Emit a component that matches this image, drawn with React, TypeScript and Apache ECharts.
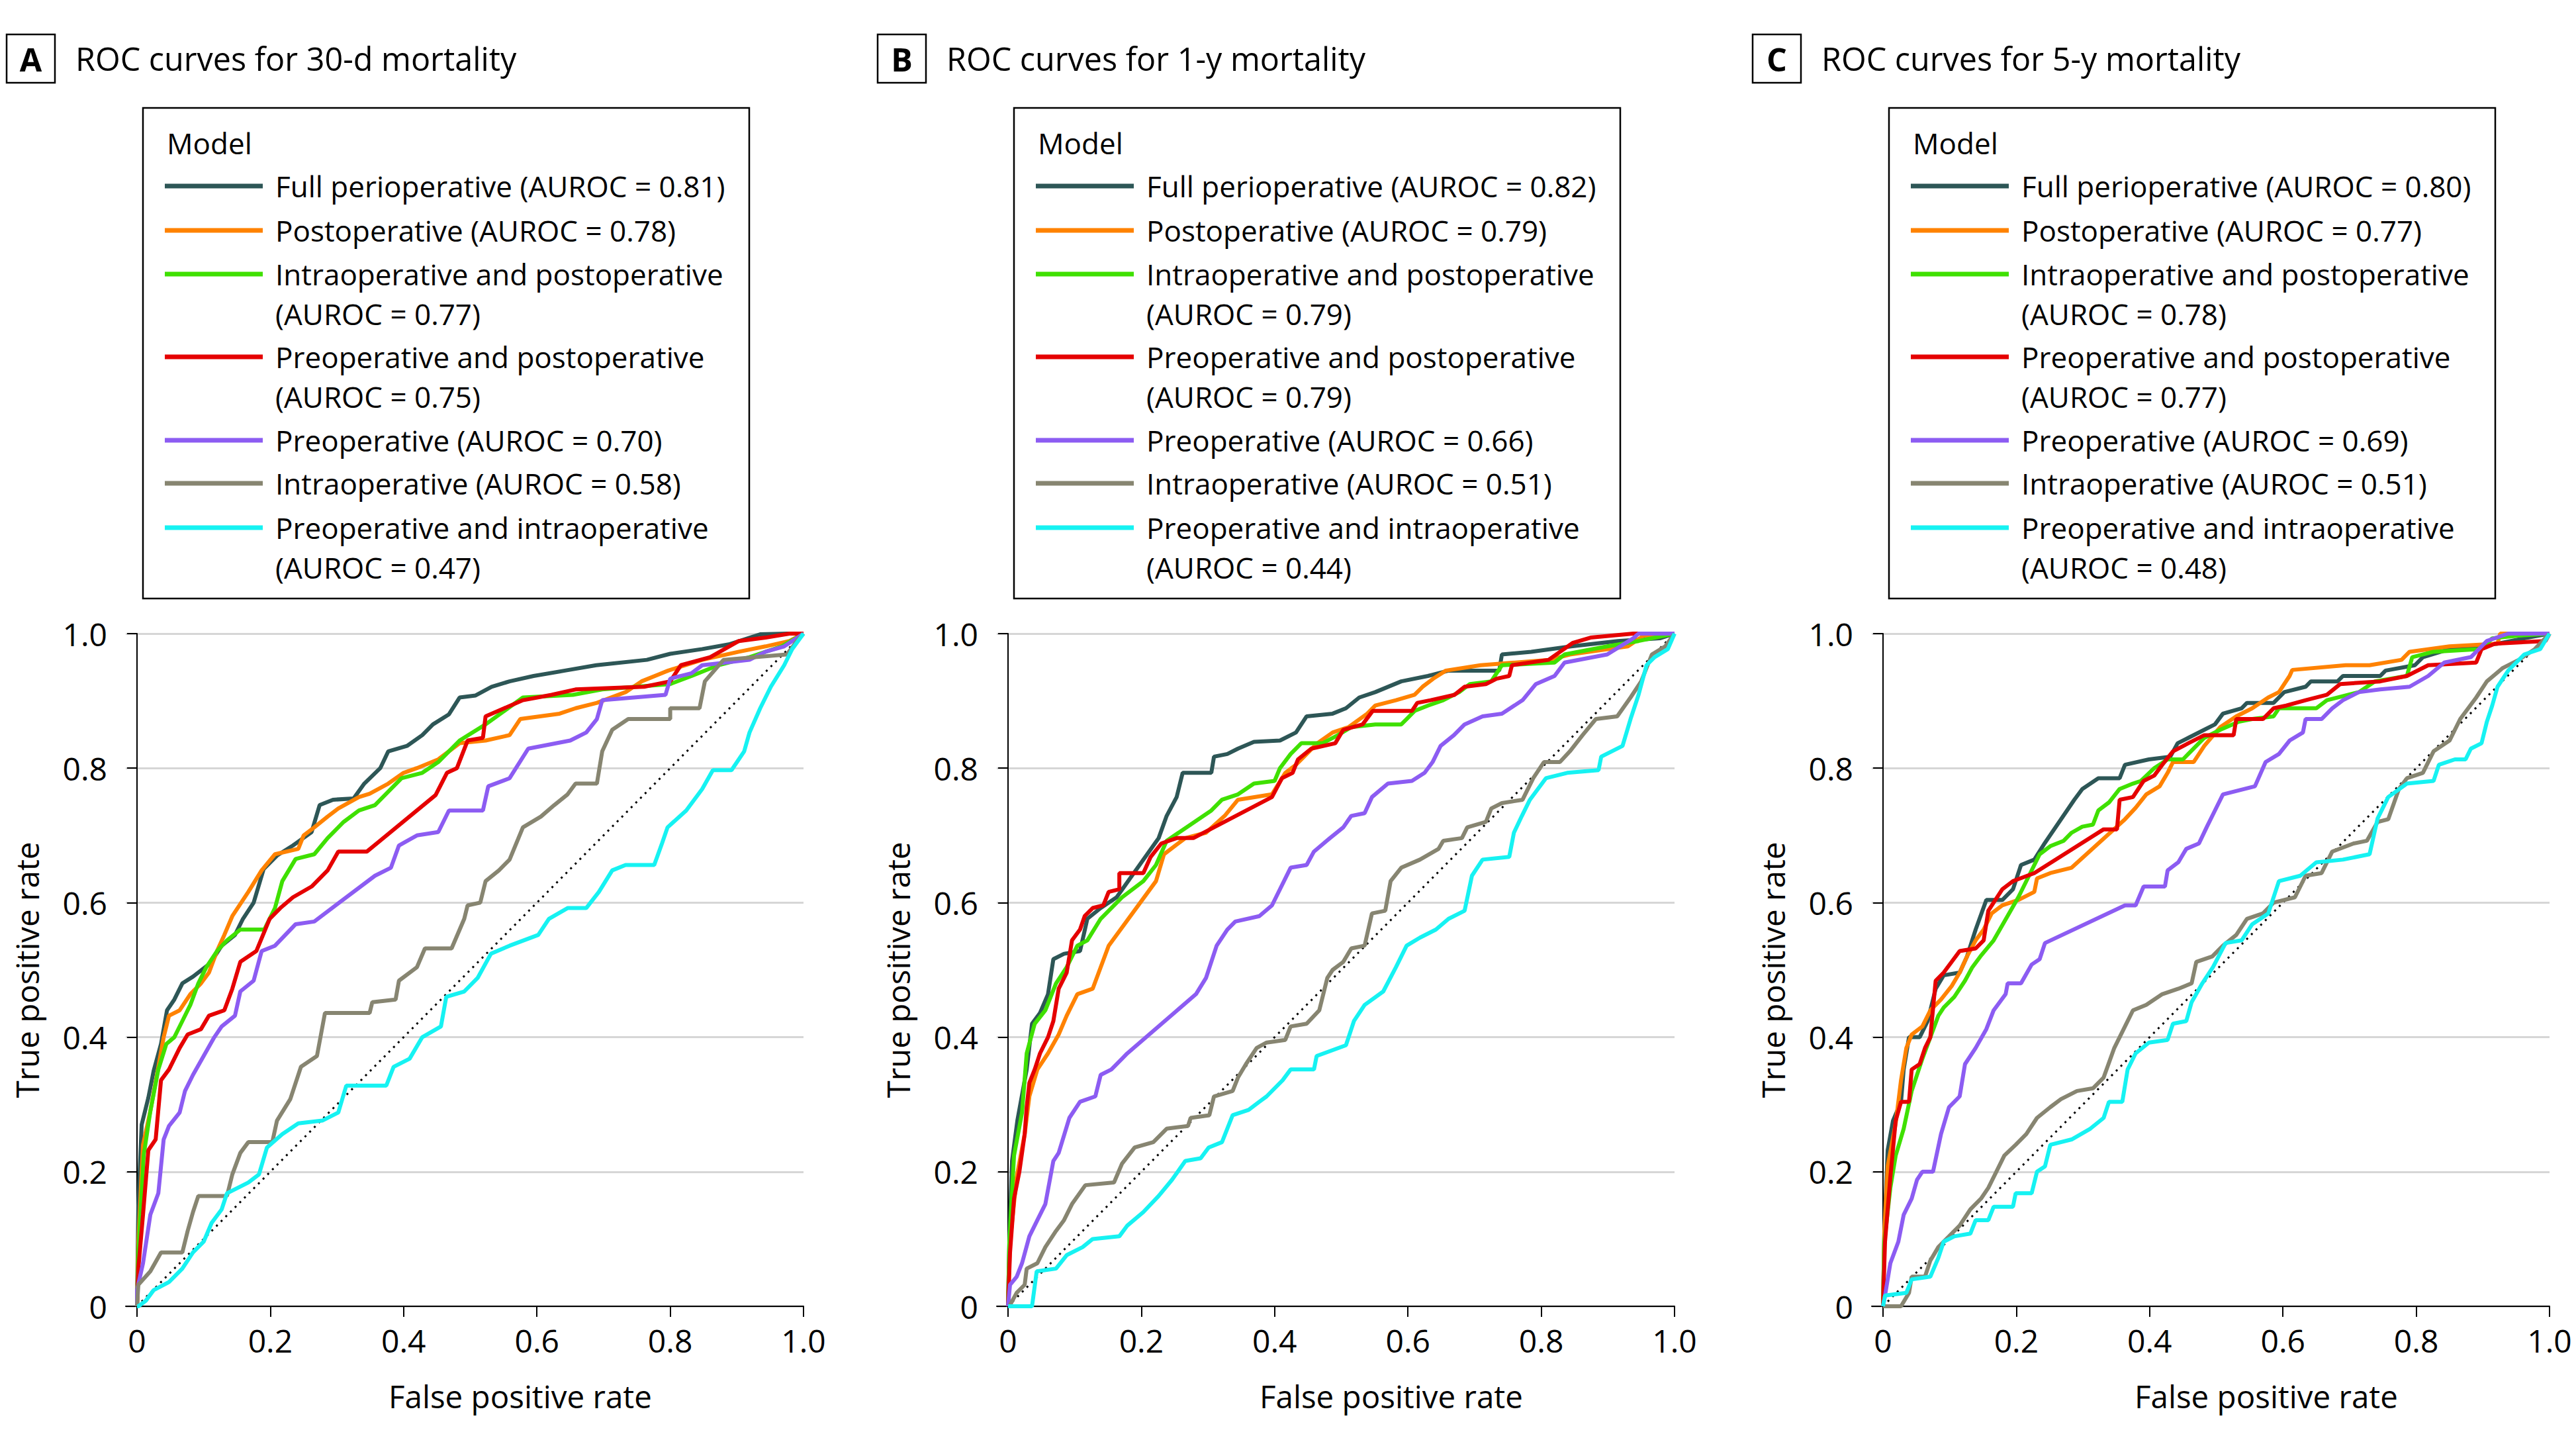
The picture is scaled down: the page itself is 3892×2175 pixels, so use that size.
import React, { useEffect, useRef } from "react";
import * as echarts from "echarts";

const W = 3892;
const H = 2175;
const FONT = '"Open Sans", "Liberation Sans", sans-serif';

const panelLetters = ["A", "B", "C"];
const panelTitles = ["ROC curves for 30-d mortality", "ROC curves for 1-y mortality", "ROC curves for 5-y mortality"];
const modelNames = [
  "Full perioperative",
  "Postoperative",
  "Intraoperative and postoperative",
  "Preoperative and postoperative",
  "Preoperative",
  "Intraoperative",
  "Preoperative and intraoperative",
];
const modelWrap = [false, false, true, true, false, false, true];
const aurocA = [0.81, 0.78, 0.77, 0.75, 0.7, 0.58, 0.47];
const aurocB = [0.82, 0.79, 0.79, 0.79, 0.66, 0.51, 0.44];
const aurocC = [0.8, 0.77, 0.78, 0.77, 0.69, 0.51, 0.48];
const modelColors = ["#2d5656", "#ff8200", "#3fe000", "#e50000", "#8c5cf2", "#878571", "#16f2f2"];
const tickValues = [0, 0.2, 0.4, 0.6, 0.8, 1.0];
const xAxisTitle = "False positive rate";
const yAxisTitle = "True positive rate";
const diagonal = [[0, 0], [1, 1]];

// ---- Panel A: 30-d mortality ----
const aFull = [[0,0],[0.002,0.15],[0.007,0.27],[0.017,0.31],[0.025,0.35],[0.036,0.39],[0.045,0.44],[0.056,0.456],[0.068,0.48],[0.084,0.49],[0.11,0.51],[0.127,0.536],[0.147,0.552],[0.159,0.576],[0.175,0.6],[0.19,0.65],[0.21,0.67],[0.234,0.685],[0.262,0.705],[0.274,0.745],[0.294,0.753],[0.325,0.755],[0.341,0.777],[0.365,0.8],[0.377,0.825],[0.405,0.833],[0.428,0.849],[0.444,0.865],[0.468,0.88],[0.484,0.905],[0.508,0.908],[0.532,0.921],[0.559,0.929],[0.595,0.937],[0.642,0.945],[0.689,0.953],[0.765,0.961],[0.8,0.97],[0.848,0.977],[0.888,0.984],[0.935,0.999],[0.975,1],[1,1]];
const aPost = [[0,0],[0.002,0.096],[0.009,0.24],[0.02,0.29],[0.031,0.35],[0.04,0.4],[0.048,0.432],[0.064,0.44],[0.08,0.464],[0.096,0.48],[0.108,0.496],[0.12,0.528],[0.131,0.552],[0.143,0.58],[0.167,0.616],[0.187,0.648],[0.207,0.672],[0.242,0.68],[0.25,0.7],[0.266,0.712],[0.286,0.728],[0.302,0.74],[0.333,0.757],[0.349,0.762],[0.377,0.777],[0.4,0.793],[0.42,0.8],[0.452,0.813],[0.484,0.837],[0.523,0.841],[0.559,0.849],[0.575,0.873],[0.634,0.881],[0.658,0.889],[0.69,0.897],[0.733,0.913],[0.757,0.929],[0.797,0.945],[0.848,0.961],[0.903,0.973],[0.943,0.981],[0.979,0.989],[1,1]];
const aIntraPost = [[0,0],[0.002,0.08],[0.01,0.224],[0.02,0.29],[0.032,0.352],[0.044,0.39],[0.056,0.4],[0.068,0.424],[0.08,0.448],[0.092,0.48],[0.104,0.504],[0.12,0.528],[0.135,0.544],[0.155,0.56],[0.191,0.56],[0.207,0.592],[0.218,0.632],[0.238,0.665],[0.266,0.672],[0.286,0.696],[0.31,0.72],[0.333,0.737],[0.357,0.745],[0.381,0.769],[0.397,0.785],[0.428,0.793],[0.452,0.809],[0.484,0.841],[0.523,0.865],[0.579,0.905],[0.654,0.909],[0.698,0.917],[0.8,0.925],[0.832,0.937],[0.872,0.953],[0.919,0.965],[0.967,0.981],[1,1]];
const aPrePost = [[0,0],[0.002,0.056],[0.009,0.136],[0.017,0.232],[0.028,0.248],[0.036,0.336],[0.048,0.352],[0.064,0.384],[0.076,0.404],[0.096,0.412],[0.108,0.432],[0.131,0.44],[0.143,0.472],[0.155,0.512],[0.179,0.528],[0.199,0.576],[0.215,0.592],[0.234,0.608],[0.262,0.624],[0.286,0.648],[0.302,0.676],[0.345,0.676],[0.448,0.76],[0.465,0.793],[0.48,0.8],[0.496,0.841],[0.519,0.845],[0.523,0.877],[0.551,0.889],[0.579,0.901],[0.622,0.909],[0.658,0.917],[0.761,0.921],[0.8,0.929],[0.816,0.953],[0.86,0.965],[0.903,0.989],[0.943,0.994],[0.979,1],[1,1]];
const aPre = [[0,0],[0,0.024],[0.009,0.064],[0.02,0.136],[0.032,0.168],[0.04,0.248],[0.048,0.268],[0.064,0.288],[0.072,0.32],[0.084,0.344],[0.1,0.372],[0.116,0.4],[0.127,0.416],[0.147,0.432],[0.155,0.468],[0.175,0.484],[0.187,0.528],[0.207,0.536],[0.238,0.568],[0.266,0.572],[0.357,0.64],[0.381,0.652],[0.393,0.685],[0.42,0.7],[0.452,0.705],[0.468,0.737],[0.519,0.737],[0.527,0.773],[0.559,0.785],[0.587,0.829],[0.65,0.841],[0.674,0.853],[0.69,0.873],[0.698,0.901],[0.793,0.909],[0.8,0.933],[0.832,0.941],[0.848,0.953],[0.919,0.961],[0.943,0.973],[0.971,0.981],[1,1]];
const aIntra = [[0,0],[0.002,0.032],[0.02,0.052],[0.036,0.08],[0.068,0.08],[0.076,0.112],[0.084,0.14],[0.092,0.164],[0.135,0.164],[0.143,0.196],[0.155,0.228],[0.167,0.244],[0.203,0.244],[0.21,0.276],[0.23,0.308],[0.246,0.356],[0.27,0.372],[0.282,0.436],[0.349,0.436],[0.353,0.452],[0.388,0.456],[0.393,0.484],[0.42,0.504],[0.432,0.532],[0.472,0.532],[0.491,0.576],[0.496,0.596],[0.515,0.6],[0.523,0.632],[0.543,0.648],[0.559,0.664],[0.579,0.712],[0.606,0.728],[0.626,0.745],[0.646,0.761],[0.658,0.777],[0.69,0.777],[0.698,0.825],[0.713,0.857],[0.737,0.873],[0.8,0.873],[0.8,0.889],[0.844,0.889],[0.852,0.929],[0.88,0.961],[0.975,0.969],[0.99,0.989],[1,1]];
const aPreIntra = [[0,0],[0.002,0],[0.013,0.008],[0.025,0.024],[0.048,0.036],[0.068,0.056],[0.084,0.08],[0.1,0.096],[0.112,0.124],[0.127,0.144],[0.135,0.168],[0.167,0.184],[0.183,0.196],[0.195,0.236],[0.218,0.256],[0.242,0.272],[0.278,0.276],[0.302,0.288],[0.314,0.328],[0.374,0.328],[0.385,0.356],[0.409,0.368],[0.428,0.4],[0.456,0.416],[0.464,0.46],[0.491,0.468],[0.511,0.488],[0.531,0.524],[0.559,0.536],[0.602,0.552],[0.618,0.576],[0.646,0.592],[0.674,0.592],[0.693,0.616],[0.713,0.648],[0.733,0.656],[0.776,0.656],[0.788,0.689],[0.796,0.712],[0.824,0.737],[0.848,0.769],[0.864,0.797],[0.892,0.797],[0.911,0.825],[0.919,0.853],[0.935,0.889],[0.951,0.921],[0.971,0.953],[0.983,0.977],[1,1]];

// ---- Panel B: 1-y mortality ----
const bFull = [[0,0],[0.002,0.096],[0.006,0.216],[0.014,0.276],[0.028,0.352],[0.036,0.42],[0.048,0.436],[0.06,0.464],[0.068,0.516],[0.084,0.524],[0.108,0.528],[0.119,0.576],[0.139,0.592],[0.163,0.608],[0.226,0.696],[0.238,0.729],[0.253,0.757],[0.262,0.793],[0.305,0.793],[0.309,0.817],[0.329,0.821],[0.345,0.829],[0.369,0.839],[0.408,0.841],[0.432,0.853],[0.448,0.877],[0.487,0.881],[0.507,0.889],[0.527,0.905],[0.551,0.913],[0.59,0.929],[0.63,0.937],[0.661,0.945],[0.737,0.945],[0.741,0.969],[0.785,0.973],[0.845,0.981],[0.915,0.989],[0.978,0.993],[1,1]];
const bPost = [[0,0],[0.003,0.096],[0.013,0.192],[0.025,0.256],[0.032,0.312],[0.044,0.352],[0.06,0.376],[0.076,0.404],[0.088,0.432],[0.104,0.464],[0.127,0.472],[0.139,0.504],[0.151,0.536],[0.222,0.632],[0.234,0.672],[0.266,0.696],[0.297,0.704],[0.325,0.729],[0.345,0.753],[0.396,0.761],[0.416,0.793],[0.432,0.805],[0.464,0.837],[0.487,0.853],[0.511,0.861],[0.539,0.881],[0.551,0.893],[0.582,0.901],[0.61,0.909],[0.622,0.921],[0.638,0.933],[0.657,0.945],[0.709,0.953],[0.812,0.961],[0.843,0.969],[0.93,0.981],[0.954,0.997],[1,1]];
const bIntraPost = [[0,0],[0.002,0.096],[0.009,0.224],[0.021,0.288],[0.028,0.376],[0.04,0.42],[0.056,0.44],[0.072,0.48],[0.088,0.504],[0.104,0.536],[0.119,0.544],[0.139,0.576],[0.171,0.608],[0.203,0.632],[0.222,0.656],[0.238,0.692],[0.305,0.737],[0.321,0.753],[0.345,0.761],[0.369,0.777],[0.4,0.781],[0.408,0.8],[0.424,0.821],[0.44,0.837],[0.472,0.837],[0.495,0.849],[0.515,0.861],[0.551,0.865],[0.59,0.865],[0.598,0.873],[0.61,0.885],[0.63,0.893],[0.653,0.901],[0.677,0.913],[0.693,0.925],[0.725,0.929],[0.741,0.953],[0.82,0.957],[0.835,0.969],[0.899,0.981],[0.946,0.989],[1,1]];
const bPrePost = [[0,0],[0.003,0.08],[0.009,0.16],[0.017,0.2],[0.025,0.256],[0.028,0.296],[0.032,0.332],[0.04,0.352],[0.048,0.376],[0.06,0.4],[0.068,0.424],[0.076,0.472],[0.088,0.496],[0.096,0.544],[0.108,0.56],[0.115,0.58],[0.127,0.592],[0.143,0.596],[0.151,0.616],[0.167,0.62],[0.167,0.644],[0.203,0.644],[0.214,0.668],[0.23,0.688],[0.253,0.696],[0.278,0.696],[0.396,0.757],[0.411,0.785],[0.427,0.793],[0.435,0.813],[0.455,0.829],[0.491,0.837],[0.503,0.857],[0.532,0.865],[0.547,0.885],[0.606,0.885],[0.614,0.897],[0.634,0.901],[0.67,0.909],[0.685,0.921],[0.717,0.925],[0.733,0.933],[0.752,0.937],[0.756,0.953],[0.811,0.961],[0.847,0.986],[0.874,0.994],[0.938,1],[1,1]];
const bPre = [[0,0],[0.003,0.032],[0.013,0.044],[0.021,0.064],[0.032,0.104],[0.044,0.128],[0.056,0.152],[0.068,0.216],[0.076,0.228],[0.092,0.28],[0.108,0.304],[0.131,0.312],[0.139,0.344],[0.155,0.352],[0.171,0.368],[0.179,0.376],[0.282,0.464],[0.297,0.488],[0.313,0.536],[0.329,0.56],[0.341,0.572],[0.377,0.58],[0.396,0.596],[0.424,0.652],[0.448,0.656],[0.459,0.676],[0.483,0.696],[0.503,0.712],[0.515,0.729],[0.535,0.733],[0.546,0.757],[0.57,0.777],[0.606,0.781],[0.625,0.793],[0.637,0.809],[0.649,0.833],[0.669,0.849],[0.685,0.865],[0.712,0.877],[0.741,0.881],[0.772,0.901],[0.792,0.925],[0.82,0.937],[0.835,0.957],[0.899,0.969],[0.938,0.993],[0.946,1],[1,1]];
const bIntra = [[0,0],[0.002,0],[0.013,0.02],[0.025,0.032],[0.028,0.056],[0.044,0.064],[0.056,0.088],[0.072,0.112],[0.084,0.128],[0.096,0.152],[0.116,0.18],[0.159,0.184],[0.171,0.212],[0.19,0.236],[0.218,0.244],[0.238,0.264],[0.27,0.268],[0.274,0.28],[0.302,0.284],[0.309,0.312],[0.337,0.32],[0.345,0.34],[0.357,0.36],[0.373,0.384],[0.388,0.392],[0.416,0.396],[0.424,0.416],[0.448,0.42],[0.467,0.44],[0.479,0.488],[0.487,0.5],[0.503,0.512],[0.515,0.532],[0.535,0.536],[0.546,0.584],[0.566,0.588],[0.574,0.632],[0.59,0.652],[0.618,0.664],[0.646,0.68],[0.653,0.692],[0.681,0.696],[0.689,0.712],[0.717,0.72],[0.725,0.74],[0.741,0.748],[0.772,0.753],[0.788,0.785],[0.804,0.809],[0.828,0.809],[0.843,0.825],[0.862,0.849],[0.882,0.873],[0.914,0.877],[0.934,0.905],[0.95,0.929],[0.966,0.969],[0.986,0.981],[1,1]];
const bPreIntra = [[0,0],[0.036,0],[0.043,0.052],[0.072,0.056],[0.088,0.076],[0.112,0.088],[0.127,0.1],[0.167,0.104],[0.179,0.12],[0.203,0.14],[0.226,0.164],[0.246,0.188],[0.266,0.216],[0.289,0.22],[0.301,0.236],[0.321,0.244],[0.337,0.284],[0.361,0.292],[0.377,0.304],[0.388,0.312],[0.412,0.336],[0.424,0.352],[0.459,0.352],[0.463,0.372],[0.507,0.388],[0.519,0.424],[0.535,0.448],[0.563,0.468],[0.582,0.504],[0.598,0.536],[0.618,0.548],[0.642,0.56],[0.661,0.576],[0.685,0.588],[0.696,0.64],[0.712,0.664],[0.752,0.668],[0.759,0.704],[0.771,0.729],[0.783,0.753],[0.807,0.785],[0.839,0.793],[0.886,0.797],[0.89,0.817],[0.922,0.833],[0.934,0.873],[0.946,0.909],[0.958,0.953],[0.97,0.965],[0.99,0.977],[1,1]];

// ---- Panel C: 5-y mortality ----
const cFull = [[0,0],[0.002,0.112],[0.007,0.232],[0.015,0.276],[0.027,0.304],[0.031,0.352],[0.039,0.4],[0.055,0.4],[0.067,0.424],[0.079,0.472],[0.091,0.492],[0.115,0.496],[0.126,0.52],[0.139,0.56],[0.155,0.604],[0.179,0.604],[0.195,0.62],[0.207,0.656],[0.227,0.664],[0.243,0.689],[0.287,0.753],[0.299,0.769],[0.323,0.785],[0.355,0.785],[0.363,0.805],[0.399,0.813],[0.431,0.817],[0.442,0.837],[0.458,0.845],[0.482,0.857],[0.498,0.865],[0.51,0.881],[0.538,0.889],[0.546,0.897],[0.586,0.897],[0.602,0.913],[0.634,0.921],[0.642,0.929],[0.682,0.929],[0.69,0.937],[0.746,0.937],[0.754,0.945],[0.798,0.953],[0.81,0.965],[0.85,0.977],[0.922,0.985],[0.962,0.993],[1,1]];
const cPost = [[0,0],[0.002,0.112],[0.007,0.208],[0.019,0.272],[0.027,0.336],[0.035,0.384],[0.043,0.404],[0.059,0.416],[0.071,0.44],[0.087,0.456],[0.103,0.476],[0.115,0.496],[0.126,0.52],[0.139,0.544],[0.151,0.56],[0.163,0.584],[0.179,0.596],[0.203,0.604],[0.227,0.616],[0.231,0.636],[0.251,0.644],[0.283,0.652],[0.363,0.724],[0.379,0.741],[0.395,0.761],[0.415,0.773],[0.427,0.793],[0.435,0.809],[0.466,0.809],[0.482,0.833],[0.506,0.861],[0.53,0.877],[0.554,0.889],[0.578,0.905],[0.594,0.913],[0.61,0.937],[0.614,0.946],[0.694,0.953],[0.73,0.953],[0.778,0.961],[0.79,0.973],[0.85,0.981],[0.922,0.985],[0.926,1],[1,1]];
const cIntraPost = [[0,0],[0.002,0.096],[0.011,0.176],[0.019,0.224],[0.031,0.264],[0.043,0.32],[0.059,0.368],[0.071,0.4],[0.083,0.432],[0.091,0.444],[0.107,0.46],[0.123,0.484],[0.134,0.504],[0.146,0.52],[0.166,0.544],[0.203,0.608],[0.235,0.672],[0.251,0.684],[0.271,0.692],[0.283,0.704],[0.299,0.713],[0.315,0.716],[0.323,0.737],[0.339,0.749],[0.355,0.769],[0.375,0.777],[0.387,0.781],[0.407,0.8],[0.427,0.813],[0.45,0.813],[0.482,0.845],[0.506,0.857],[0.534,0.869],[0.554,0.873],[0.586,0.877],[0.594,0.889],[0.65,0.889],[0.666,0.901],[0.714,0.913],[0.738,0.929],[0.786,0.937],[0.794,0.965],[0.826,0.973],[0.898,0.977],[0.914,0.993],[0.954,0.997],[1,1]];
const cPrePost = [[0,0],[0.003,0.096],[0.011,0.192],[0.019,0.276],[0.027,0.304],[0.039,0.304],[0.043,0.352],[0.055,0.36],[0.063,0.384],[0.071,0.4],[0.079,0.484],[0.091,0.496],[0.103,0.512],[0.115,0.528],[0.139,0.532],[0.151,0.544],[0.158,0.588],[0.179,0.62],[0.195,0.632],[0.227,0.644],[0.331,0.709],[0.351,0.709],[0.355,0.753],[0.375,0.757],[0.391,0.781],[0.407,0.789],[0.419,0.805],[0.435,0.825],[0.458,0.837],[0.482,0.849],[0.526,0.849],[0.53,0.873],[0.57,0.873],[0.586,0.889],[0.605,0.893],[0.634,0.901],[0.666,0.909],[0.686,0.925],[0.746,0.929],[0.786,0.937],[0.818,0.953],[0.89,0.957],[0.898,0.977],[0.918,0.985],[0.994,0.989],[1,1]];
const cPre = [[0,0],[0.003,0.016],[0.011,0.064],[0.023,0.096],[0.031,0.136],[0.043,0.16],[0.051,0.188],[0.059,0.2],[0.075,0.2],[0.087,0.256],[0.099,0.296],[0.115,0.312],[0.123,0.36],[0.139,0.384],[0.155,0.412],[0.166,0.44],[0.184,0.464],[0.187,0.48],[0.207,0.48],[0.223,0.508],[0.235,0.516],[0.243,0.54],[0.363,0.596],[0.379,0.596],[0.391,0.624],[0.423,0.624],[0.427,0.648],[0.443,0.66],[0.455,0.68],[0.474,0.688],[0.486,0.713],[0.498,0.737],[0.51,0.761],[0.558,0.773],[0.574,0.809],[0.594,0.821],[0.61,0.841],[0.63,0.853],[0.634,0.873],[0.658,0.873],[0.674,0.889],[0.69,0.901],[0.714,0.913],[0.746,0.917],[0.79,0.921],[0.818,0.937],[0.842,0.957],[0.882,0.965],[0.906,0.989],[0.938,1],[1,1]];
const cIntra = [[0,0],[0.027,0],[0.039,0.02],[0.043,0.044],[0.063,0.044],[0.071,0.068],[0.083,0.088],[0.099,0.104],[0.115,0.12],[0.131,0.144],[0.147,0.16],[0.158,0.176],[0.17,0.2],[0.182,0.224],[0.199,0.24],[0.215,0.256],[0.231,0.28],[0.251,0.296],[0.267,0.308],[0.291,0.32],[0.315,0.324],[0.331,0.34],[0.347,0.384],[0.363,0.416],[0.375,0.44],[0.395,0.448],[0.419,0.464],[0.443,0.472],[0.463,0.48],[0.47,0.512],[0.494,0.52],[0.51,0.536],[0.53,0.552],[0.546,0.576],[0.57,0.584],[0.586,0.6],[0.618,0.608],[0.634,0.64],[0.658,0.644],[0.674,0.676],[0.706,0.688],[0.726,0.692],[0.742,0.72],[0.758,0.724],[0.774,0.769],[0.786,0.785],[0.81,0.793],[0.826,0.825],[0.85,0.841],[0.866,0.873],[0.89,0.905],[0.906,0.929],[0.93,0.949],[0.954,0.961],[0.978,0.977],[1,1]];
const cPreIntra = [[0,0],[0.003,0.016],[0.035,0.02],[0.043,0.04],[0.071,0.044],[0.083,0.072],[0.091,0.096],[0.107,0.104],[0.131,0.108],[0.139,0.128],[0.158,0.128],[0.166,0.148],[0.195,0.148],[0.199,0.168],[0.223,0.168],[0.231,0.2],[0.243,0.208],[0.251,0.24],[0.283,0.248],[0.311,0.264],[0.331,0.28],[0.339,0.304],[0.359,0.304],[0.367,0.352],[0.379,0.376],[0.399,0.392],[0.427,0.396],[0.435,0.42],[0.455,0.424],[0.463,0.452],[0.479,0.48],[0.495,0.504],[0.514,0.54],[0.538,0.544],[0.554,0.568],[0.578,0.584],[0.594,0.632],[0.626,0.64],[0.65,0.66],[0.69,0.664],[0.73,0.672],[0.742,0.725],[0.758,0.757],[0.786,0.777],[0.826,0.781],[0.834,0.805],[0.858,0.813],[0.874,0.813],[0.882,0.829],[0.898,0.837],[0.906,0.869],[0.914,0.893],[0.922,0.921],[0.938,0.945],[0.962,0.969],[0.986,0.977],[1,1]];

const panelCurves = [
  [aFull, aPost, aIntraPost, aPrePost, aPre, aIntra, aPreIntra],
  [bFull, bPost, bIntraPost, bPrePost, bPre, bIntra, bPreIntra],
  [cFull, cPost, cIntraPost, cPrePost, cPre, cIntra, cPreIntra],
];
const panelAuroc = [aurocA, aurocB, aurocC];

// ---- layout (pixels) ----
const panelX = [0, 1316, 2638];
const AXIS_X = 190; // y-axis line, relative to panel
const PLOT_X0 = 207; // x = 0
const PLOT_X1 = 1214; // x = 1
const PLOT_TOP = 957;
const PLOT_BOTTOM = 1973;
const XMIN = -(PLOT_X0 - AXIS_X) / (PLOT_X1 - PLOT_X0);
const FS_TITLE = 48.5;
const FS_LEGEND = 44;
const FS_AXISNAME = 47.5;
const FS_TICK = 48;

const fmt = (v: number) => (v === 0 ? "0" : v.toFixed(1));

function txt(x: number, y: number, text: string, size: number, extra: any = {}, elProps: any = {}) {
  return {
    type: "text",
    x,
    y,
    silent: true,
    ...elProps,
    style: {
      text,
      fill: "#000",
      fontSize: size,
      fontFamily: FONT,
      textAlign: "left",
      textVerticalAlign: "middle",
      ...extra,
    },
  };
}

function buildOption() {
  const grid: any[] = [];
  const xAxis: any[] = [];
  const yAxis: any[] = [];
  const series: any[] = [];
  const graphic: any[] = [];

  panelX.forEach((bx, p) => {
    grid.push({
      left: bx + AXIS_X,
      top: PLOT_TOP,
      width: PLOT_X1 - AXIS_X,
      height: PLOT_BOTTOM - PLOT_TOP,
      containLabel: false,
    });
    xAxis.push({
      type: "value",
      gridIndex: p,
      min: XMIN,
      max: 1,
      axisLine: { show: true, onZero: false, lineStyle: { color: "#000", width: 2 } },
      axisTick: { show: true, customValues: tickValues, length: 16, lineStyle: { color: "#000", width: 2 } },
      axisLabel: { show: true, customValues: tickValues, formatter: fmt, fontSize: FS_TICK, fontFamily: FONT, color: "#000", margin: 27 },
      splitLine: { show: false },
    });
    yAxis.push({
      type: "value",
      gridIndex: p,
      min: 0,
      max: 1,
      interval: 0.2,
      axisLine: { show: true, lineStyle: { color: "#000", width: 2 } },
      axisTick: { show: true, length: 15, lineStyle: { color: "#000", width: 2 } },
      axisLabel: { show: true, formatter: fmt, fontSize: FS_TICK, fontFamily: FONT, color: "#000", margin: 28 },
      splitLine: { show: true, lineStyle: { color: "#d6d6d6", width: 3 } },
    });
    series.push({
      type: "line",
      name: "Reference " + p,
      xAxisIndex: p,
      yAxisIndex: p,
      data: diagonal,
      symbol: "none",
      silent: true,
      clip: false,
      z: 1,
      lineStyle: { color: "#000", width: 3, type: [3, 7] },
    });
    panelCurves[p].forEach((d, m) => {
      series.push({
        type: "line",
        name: modelNames[m],
        xAxisIndex: p,
        yAxisIndex: p,
        data: d,
        symbol: "none",
        silent: true,
        clip: false,
        z: 2 + m,
        lineStyle: { color: modelColors[m], width: 6 },
        itemStyle: { color: modelColors[m] },
      });
    });

    // title
    graphic.push({
      type: "rect",
      silent: true,
      shape: { x: bx + 10, y: 52, width: 73, height: 73 },
      style: { fill: "none", stroke: "#000", lineWidth: 2.5 },
    });
    graphic.push(txt(bx + 46.5, 89, panelLetters[p], FS_TITLE, { textAlign: "center", fontWeight: "bold" }));
    graphic.push(txt(bx + 114, 88, panelTitles[p], FS_TITLE));

    // legend box
    const lx = bx + 216;
    const ly = 163;
    graphic.push({
      type: "rect",
      silent: true,
      shape: { x: lx, y: ly, width: 916, height: 741 },
      style: { fill: "none", stroke: "#000", lineWidth: 2.5 },
    });
    graphic.push(txt(lx + 36, ly + 53, "Model", FS_LEGEND));
    const rowY = [118, 185, 251, 376, 502, 567, 634];
    modelNames.forEach((name, m) => {
      const y = ly + rowY[m];
      graphic.push({
        type: "line",
        silent: true,
        shape: { x1: lx + 33, y1: y, x2: lx + 181, y2: y },
        style: { stroke: modelColors[m], lineWidth: 7 },
      });
      const label = "(AUROC = " + panelAuroc[p][m].toFixed(2) + ")";
      if (modelWrap[m]) {
        graphic.push(txt(lx + 200, y, name, FS_LEGEND));
        graphic.push(txt(lx + 200, y + 60, label, FS_LEGEND));
      } else {
        graphic.push(txt(lx + 200, y, name + " " + label, FS_LEGEND));
      }
    });

    // axis titles
    graphic.push(txt(bx + 786, 2108, xAxisTitle, FS_AXISNAME, { textAlign: "center" }));
    graphic.push(txt(bx + 40, (PLOT_TOP + PLOT_BOTTOM) / 2, yAxisTitle, FS_AXISNAME, { textAlign: "center" }, { rotation: Math.PI / 2 }));
  });

  return {
    animation: false,
    backgroundColor: "#fff",
    textStyle: { fontFamily: FONT },
    grid,
    xAxis,
    yAxis,
    series,
    graphic,
  };
}

export default function App() {
  const ref = useRef<HTMLDivElement>(null);
  useEffect(() => {
    if (!ref.current) return;
    const chart = echarts.init(ref.current, null, { renderer: "svg", width: W, height: H });
    chart.setOption(buildOption() as any);
    return () => chart.dispose();
  }, []);
  return (
    <div
      ref={ref}
      style={{ position: "absolute", left: 0, top: 0, width: W, height: H, background: "#fff" }}
    />
  );
}
